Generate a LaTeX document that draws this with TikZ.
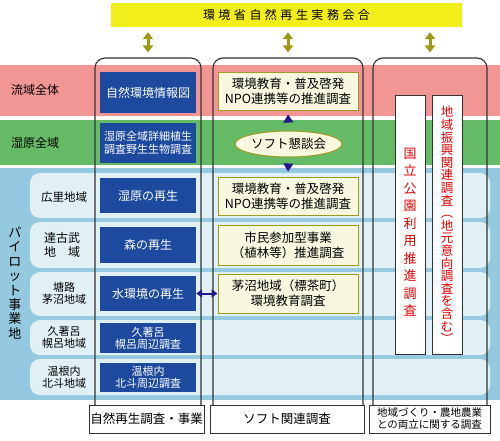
\documentclass[tikz,border=0pt]{standalone}
\usepackage{fontspec}
\setmainfont{Noto Sans CJK JP}
\usetikzlibrary{arrows.meta,shapes.geometric}
\definecolor{pinkb}{HTML}{F29595}
\definecolor{greenb}{HTML}{65BA65}
\definecolor{blueb}{HTML}{95C9DF}
\definecolor{lightrow}{HTML}{E1F0F4}
\definecolor{navybox}{HTML}{1D4A9E}
\definecolor{cream}{HTML}{F8F8E0}
\definecolor{oliveb}{HTML}{A09A20}
\definecolor{olivearr}{HTML}{9C9A12}
\definecolor{navyarr}{HTML}{24188A}
\definecolor{redtxt}{HTML}{E00000}
\definecolor{framec}{HTML}{333333}
\definecolor{titley}{HTML}{F2EE1A}
\newcommand\ttlsp{\hspace{3.5pt}}
\begin{document}
\begin{tikzpicture}[x=1pt,y=-1pt,
  band/.style={draw=none,inner sep=0,minimum width=500pt},
  rowbox/.style={fill=lightrow,draw=none,rounded corners=10pt,inner sep=0,minimum width=460pt},
  colframe/.style={draw=framec,line width=1.1pt,rounded corners=10pt,inner sep=0,minimum height=362pt},
  bluebox/.style={fill=navybox,draw=none,text=white,inner sep=0,minimum width=96pt,align=center,font=\fontsize{12}{13}\selectfont},
  creambox/.style={fill=cream,draw=oliveb,line width=1pt,inner sep=0,minimum width=140pt,align=center,font=\fontsize{12.5}{15}\selectfont},
  botbox/.style={fill=white,draw=framec,line width=1pt,inner sep=0,minimum height=28pt,align=center,font=\fontsize{12.5}{14}\selectfont},
  redv/.style={fill=white,draw=framec,line width=1pt,inner sep=0,minimum width=30pt,minimum height=259pt},
  redtext/.style={text=redtxt,align=center,inner sep=0},
  lbl/.style={align=center,inner sep=0,font=\fontsize{11.5}{13}\selectfont},
  oarrow/.style={{Triangle[length=7pt,width=10pt]}-{Triangle[length=7pt,width=10pt]},line width=3pt,draw=olivearr,fill=olivearr,shorten <=5pt,shorten >=5pt},
  narrow/.style={-{Triangle[length=8pt,width=10pt]},line width=0.5pt,draw=navyarr,fill=navyarr},
  ndarrow/.style={{Triangle[length=6pt,width=8pt]}-{Triangle[length=6pt,width=8pt]},line width=2pt,draw=navyarr,fill=navyarr}
]
\useasboundingbox (0,0) rectangle (500,440);
% bands
\node[band,fill=pinkb,minimum height=51pt] (pinkband) at (250,90.5) {};
\node[band,fill=greenb,minimum height=45pt] (greenband) at (250,142.5) {};
\node[band,fill=blueb,minimum height=232pt] (blueband) at (250,284) {};
% rows
\node[rowbox,minimum height=45pt] (r1) at (260,195.5) {};
\node[rowbox,minimum height=46pt] (r2) at (260,245) {};
\node[rowbox,minimum height=44pt] (r3) at (260,294) {};
\node[rowbox,minimum height=35pt] (r4) at (260,337.5) {};
\node[rowbox,minimum height=36pt] (r5) at (260,377) {};
% left labels
\node[lbl,font=\fontsize{12}{14}\selectfont] (lab1) at (35,90) {流域全体};
\node[lbl,font=\fontsize{12}{14}\selectfont] (lab2) at (35,143) {湿原全域};
\node[lbl,font=\fontsize{13}{14.4}\selectfont] (pilot) at (15,283) {パ\\イ\\ロ\\ッ\\ト\\事\\業\\地};
\node[lbl] (l1) at (64,197) {広里地域};
\node[lbl,font=\fontsize{12}{14}\selectfont] (l2) at (62,245) {達古武\\地\quad 域};
\node[lbl,font=\fontsize{11}{12}\selectfont] (l3) at (64,293) {塘路\\茅沼地域};
\node[lbl,font=\fontsize{11}{12}\selectfont] (l4) at (64,337) {久著呂\\幌呂地域};
\node[lbl,font=\fontsize{11}{12.5}\selectfont] (l5) at (64,377.5) {温根内\\北斗地域};
% title
\node[fill=titley,inner sep=0,minimum width=351pt,minimum height=24pt,font=\fontsize{12}{14}\selectfont] (title) at (286.5,15)
  {環\ttlsp 境\ttlsp 省\ttlsp 自\ttlsp 然\ttlsp 再\ttlsp 生\ttlsp 実\ttlsp 務\ttlsp 会\ttlsp 合};
% column frames
\node[colframe,minimum width=106pt] (col1) at (148,239) {};
\node[colframe,minimum width=150pt] (col2) at (288,239) {};
\node[colframe,minimum width=114pt] (col3) at (430,239) {};
% blue boxes
\node[bluebox,minimum height=41pt] (bb1) at (148,92.5) {自然環境情報図};
\node[bluebox,minimum height=40pt,font=\fontsize{11}{13}\selectfont] (bb2) at (148,143) {湿原全域詳細植生\\調査野生生物調査};
\node[bluebox,minimum height=35pt] (bb3) at (148,195.5) {湿原の再生};
\node[bluebox,minimum height=36pt] (bb4) at (148,245) {森の再生};
\node[bluebox,minimum height=35pt] (bb5) at (148,293.5) {水環境の再生};
\node[bluebox,minimum height=30pt,font=\fontsize{11}{12}\selectfont] (bb6) at (148,338) {久著呂\\幌呂周辺調査};
\node[bluebox,minimum height=29pt,font=\fontsize{11}{12}\selectfont] (bb7) at (148,377.5) {温根内\\北斗周辺調査};
% cream boxes
\node[creambox,minimum height=38pt] (cb1) at (288,91) {環境教育・普及啓発\\NPO連携等の推進調査};
\node[creambox,minimum height=38pt] (cb2) at (288,196) {環境教育・普及啓発\\NPO連携等の推進調査};
\node[creambox,minimum height=40pt] (cb3) at (288,245) {市民参加型事業\\（植林等）推進調査};
\node[creambox,minimum height=39pt] (cb4) at (288,293.5) {茅沼地域（標茶町）\\環境教育調査};
\node[ellipse,fill=cream,draw=oliveb,line width=1pt,inner sep=0,minimum width=107pt,minimum height=26pt,font=\fontsize{12.5}{14}\selectfont] (soft) at (288.5,144) {ソフト懇談会};
% red vertical boxes
\node[redv] (v1) at (410,224.5) {};
\node[redv] (v2) at (447,224.5) {};
\node[redtext,font=\fontsize{13}{17.5}\selectfont] (v1t) at (410,232) {国\\立\\公\\園\\利\\用\\推\\進\\調\\査};
\node[redtext,font=\fontsize{12.5}{12.6}\selectfont] (v2t) at (447,225) {地\\域\\振\\興\\関\\連\\調\\査\\︵\\地\\元\\意\\向\\調\\査\\を\\含\\む\\︶};
% bottom boxes
\node[botbox,minimum width=115pt] (b1) at (146.5,419) {自然再生調査・事業};
\node[botbox,minimum width=154pt] (b2) at (287,419) {ソフト関連調査};
\node[botbox,minimum width=121pt,font=\fontsize{10.5}{12}\selectfont] (b3) at (429.5,419) {地域づくり・農地農業\\との両立に関する調査};
% arrows
\draw[oarrow] (col1.north |- title.south) -- (col1.north);
\draw[oarrow] (col2.north |- title.south) -- (col2.north);
\draw[oarrow] (col3.north |- title.south) -- (col3.north);
\draw[narrow,shorten <=9pt,shorten >=4pt] (soft.north) -- (cb1.south);
\draw[narrow,shorten <=7pt,shorten >=5pt] (soft.south) -- (cb2.north);
\draw[ndarrow] (bb5.east) -- (cb4.west);
\end{tikzpicture}
\end{document}
